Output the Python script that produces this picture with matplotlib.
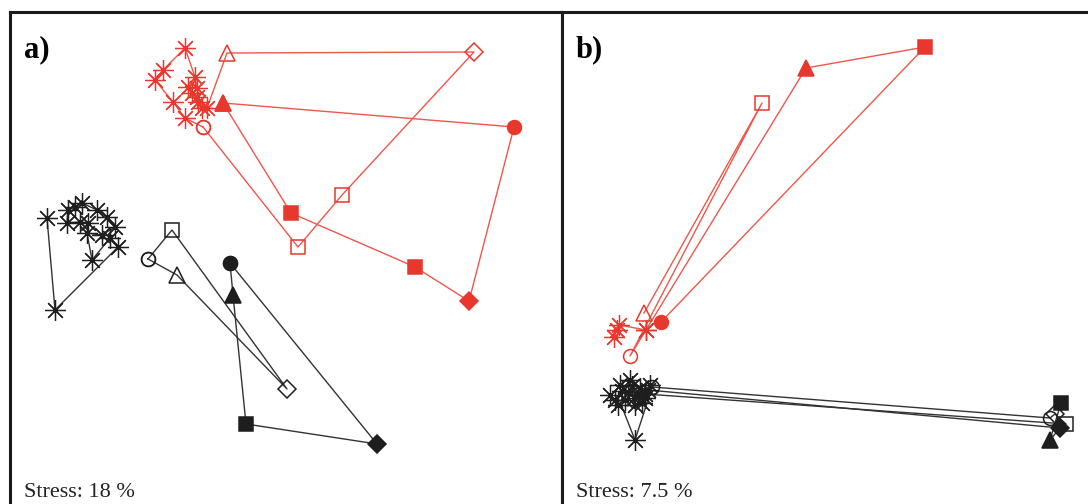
import matplotlib
matplotlib.use('Agg')
import matplotlib.pyplot as plt

RED = '#e8382d'
RED_LINE = '#f0564c'
BLACK = '#1e1e1e'
BLACK_LINE = '#333333'

STAR = (8, 2, 0)   # eight-armed asterisk
SIZES = {'o': 10, 's': 9.5, '^': 11.5, 'D': 9, '*': 15}

# ---- panel a (stress 18 %) ----
a_red_open_x = [-0.83, -1.01, -1.13, -1.31, -1.23, -1.01, -0.91, -0.89, -0.98, -0.94,
                -0.89, -0.88, -0.84, -0.79, -0.59, 1.88, 0.56, 0.12, -0.83]
a_red_open_y = [1.31, 1.40, 1.56, 1.78, 1.88, 2.10, 1.81, 1.70, 1.71, 1.65,
                1.61, 1.56, 1.50, 1.50, 2.05, 2.06, 0.63, 0.11, 1.31]
a_red_open_m = ['o', '*', '*', '*', '*', '*', '*', '*', '*', '*',
                '*', '*', '*', '*', '^', 'D', 's', 's', 'o']

a_red_fill_x = [-0.63, 2.28, 1.83, 1.29, 0.05, -0.63]
a_red_fill_y = [1.55, 1.31, -0.43, -0.09, 0.45, 1.55]
a_red_fill_m = ['^', 'o', 'D', 's', 's', '^']

a_blk_star_x = [-1.98, -2.06, -2.19, -2.18, -2.11, -2.04, -1.89, -1.79, -1.71, -1.84,
                -1.99, -1.94, -1.76, -1.68, -2.31, -2.39]
a_blk_star_y = [0.35, 0.36, 0.35, 0.48, 0.51, 0.55, 0.48, 0.41, 0.31, 0.23,
                0.25, -0.02, 0.20, 0.11, -0.52, 0.40]

a_blk_open_x = [-1.38, -1.09, 0.01, -1.14, -1.38]
a_blk_open_y = [-0.01, -0.17, -1.31, 0.28, -0.01]
a_blk_open_m = ['o', '^', 'D', 's', 'o']

a_blk_fill_x = [-0.56, 0.91, -0.40, -0.53, -0.56]
a_blk_fill_y = [-0.05, -1.86, -1.66, -0.37, -0.05]
a_blk_fill_m = ['o', 'D', 's', '^', 'o']

# ---- panel b (stress 7.5 %) ----
b_red_open_x = [-1.86, -1.83, -1.81, -1.54, -1.70, -0.38, -1.56]
b_red_open_y = [-0.79, -0.72, -0.67, -0.72, -0.98, 1.55, -0.55]
b_red_open_m = ['*', '*', '*', '*', 'o', 's', '^']

b_red_fill_x = [-1.54, 0.06, 1.25, -1.39]
b_red_fill_y = [-0.72, 1.90, 2.11, -0.64]
b_red_fill_m = ['*', '^', 's', 'o']

b_blk_star_x = [-1.90, -1.80, -1.70, -1.60, -1.75, -1.55, -1.65, -1.82, -1.50, -1.72,
                -1.62, -1.68, -1.78, -1.58, -1.85, -1.66, -1.65]
b_blk_star_y = [-1.37, -1.27, -1.22, -1.30, -1.42, -1.40, -1.47, -1.47, -1.27, -1.34,
                -1.37, -1.28, -1.33, -1.45, -1.42, -1.40, -1.82]
b_blk_v_x = [-1.80, -1.65, -1.52]
b_blk_v_y = [-1.44, -1.82, -1.42]

b_blk_open_x = [-1.48, 2.50, 2.55, 2.66, -1.55]
b_blk_open_y = [-1.29, -1.60, -1.56, -1.66, -1.36]
b_blk_open_m = ['o', 'o', 'D', 's', '*']

b_blk_fill_x = [-1.52, 2.60, 2.50, 2.61]
b_blk_fill_y = [-1.32, -1.70, -1.82, -1.45]
b_blk_fill_m = ['*', 'D', '^', 's']


def draw_series(ax, xs, ys, marks, color, line_color, filled):
    ax.plot(xs, ys, color=line_color, lw=1.0, zorder=2)
    for x, y, m in zip(xs, ys, marks):
        if m == '*':
            ax.plot(x, y, marker=STAR, ms=SIZES[m], mew=0.9, color=color,
                    ls='none', zorder=3)
        else:
            ax.plot(x, y, marker=m, ms=SIZES[m], mec=color, mew=1.1,
                    mfc=color if filled else 'none', ls='none', zorder=3)


def draw_stars(ax, xs, ys, color, line_color, connect=True):
    if connect:
        ax.plot(xs, ys, color=line_color, lw=1.0, zorder=2)
    ax.plot(xs, ys, marker=STAR, ms=SIZES['*'], mew=0.9, color=color,
            ls='none', zorder=3)


def frame(ax, xlim, ylim):
    ax.set_xlim(*xlim)
    ax.set_ylim(*ylim)
    ax.set_xticks([])
    ax.set_yticks([])
    for s in ax.spines.values():
        s.set_linewidth(2.2)
        s.set_color('#1a1a1a')


W, H = 1088, 504
fig = plt.figure(figsize=(W / 100, H / 100), dpi=100)
fig.patch.set_facecolor('white')

ax_a = fig.add_axes([10 / W, -25 / H, 552 / W, 517 / H])
ax_b = fig.add_axes([562 / W, -25 / H, 548 / W, 517 / H])
frame(ax_a, (-2.76, 2.76), (-2.71, 2.46))
frame(ax_b, (-2.38, 3.10), (-2.71, 2.46))

draw_series(ax_a, a_red_open_x, a_red_open_y, a_red_open_m, RED, RED_LINE, False)
draw_series(ax_a, a_red_fill_x, a_red_fill_y, a_red_fill_m, RED, RED_LINE, True)
draw_stars(ax_a, a_blk_star_x, a_blk_star_y, BLACK, BLACK_LINE)
draw_series(ax_a, a_blk_open_x, a_blk_open_y, a_blk_open_m, BLACK, BLACK_LINE, False)
draw_series(ax_a, a_blk_fill_x, a_blk_fill_y, a_blk_fill_m, BLACK, BLACK_LINE, True)

draw_series(ax_b, b_red_open_x, b_red_open_y, b_red_open_m, RED, RED_LINE, False)
draw_series(ax_b, b_red_fill_x, b_red_fill_y, b_red_fill_m, RED, RED_LINE, True)
draw_stars(ax_b, b_blk_star_x, b_blk_star_y, BLACK, BLACK_LINE, connect=False)
ax_b.plot(b_blk_v_x, b_blk_v_y, color=BLACK_LINE, lw=1.0, zorder=2)
draw_series(ax_b, b_blk_open_x, b_blk_open_y, b_blk_open_m, BLACK, BLACK_LINE, False)
draw_series(ax_b, b_blk_fill_x, b_blk_fill_y, b_blk_fill_m, BLACK, BLACK_LINE, True)

serif = ['Liberation Serif', 'DejaVu Serif']
fig.text(24 / W, 1 - 57 / H, 'a)', fontsize=22, fontweight='bold', family=serif,
         va='baseline', ha='left')
fig.text(576 / W, 1 - 57 / H, 'b)', fontsize=22, fontweight='bold', family=serif,
         va='baseline', ha='left')
fig.text(24 / W, 1 - 497 / H, 'Stress: 18 %', fontsize=16, family=serif,
         va='baseline', ha='left', color='#222222')
fig.text(576 / W, 1 - 497 / H, 'Stress: 7.5 %', fontsize=16, family=serif,
         va='baseline', ha='left', color='#222222')

fig.savefig('out.png', dpi=100, facecolor='white')
